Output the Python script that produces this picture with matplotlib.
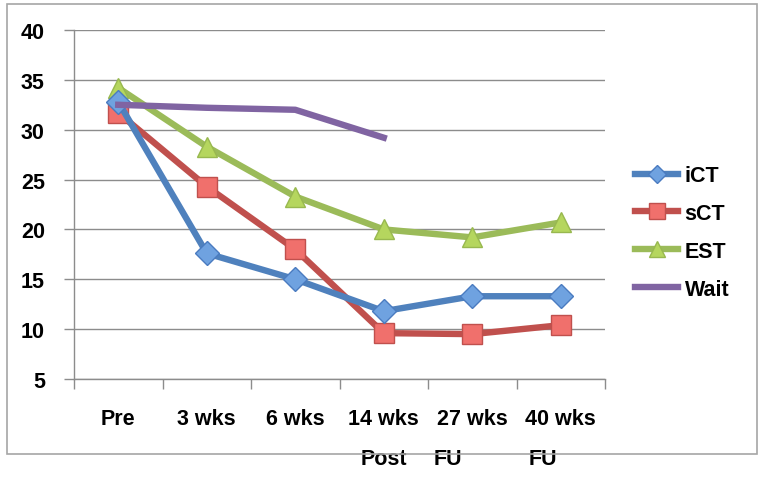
import matplotlib
matplotlib.use("Agg")
import matplotlib.pyplot as plt
from matplotlib.patches import Rectangle
import matplotlib.transforms as mtrans

plt.rcParams['font.family'] = ['Liberation Sans', 'DejaVu Sans']

categories = ['Pre', '3 wks', '6 wks', '14 wks', '27 wks', '40 wks']
second_line = ['', '', '', 'Post', 'FU', 'FU']

ict = [32.8, 17.6, 15.0, 11.8, 13.3, 13.3]
sct = [31.7, 24.3, 18.0, 9.6, 9.5, 10.4]
est = [34.2, 28.3, 23.3, 20.0, 19.2, 20.7]
wait = [32.5, 32.2, 32.0, 29.2]

fs = 15.5

fig = plt.figure(figsize=(7.61, 4.89), dpi=100)

# outer frame of the chart area
fig.patches.append(Rectangle((7 / 761, 1 - 455 / 489), 750 / 761, 450 / 489,
                             transform=fig.transFigure, fill=False,
                             edgecolor='#a6a6a6', linewidth=1.2, zorder=0))

ax = fig.add_axes([74 / 761, 1 - 380 / 489, 531 / 761, 349 / 489])

x = list(range(len(categories)))
lw = 4.6
ax.plot(x, ict, color='#4f81bd', lw=lw, marker='D', ms=12,
        mfc='#6fa2e0', mec='#4a7bc0', mew=1, label='iCT', zorder=4)
ax.plot(x, sct, color='#c0504d', lw=lw, marker='s', ms=14,
        mfc='#f0706c', mec='#c0504d', mew=1, label='sCT', zorder=3)
ax.plot(x, est, color='#9bbb59', lw=lw, marker='^', ms=14,
        mfc='#b5d65e', mec='#98b84f', mew=1, label='EST', zorder=2)
ax.plot(x[:len(wait)], wait, color='#8064a2', lw=lw, label='Wait', zorder=5)

ax.set_xlim(-0.5, len(categories) - 0.5)
ax.set_ylim(5, 40)
ax.set_yticks(range(5, 41, 5))
ax.yaxis.grid(True, color='#8c8c8c', lw=1)
ax.set_axisbelow(True)

ax.set_xticks([i - 0.5 for i in range(len(categories) + 1)])
ax.set_xticklabels([])
ax.set_xticks(x, minor=True)
ax.set_xticklabels(categories, minor=True, fontsize=fs, fontweight='bold')
ax.tick_params(axis='x', which='minor', length=0, pad=21)
ax.tick_params(axis='x', which='major', length=7, color='#8c8c8c', width=1)
ax.tick_params(axis='y', length=7, color='#8c8c8c', width=1, pad=14,
               labelsize=fs)
for lab in ax.get_yticklabels():
    lab.set_fontweight('bold')

for s in ['top', 'right']:
    ax.spines[s].set_visible(False)
for s in ['left', 'bottom']:
    ax.spines[s].set_color('#8c8c8c')
    ax.spines[s].set_linewidth(1)

trans = mtrans.blended_transform_factory(ax.transData, fig.transFigure)
offsets = [0, 0, 0, 0, -0.27, -0.2]
for i, t in enumerate(second_line):
    if t:
        ax.text(i + offsets[i], 1 - 460 / 489, t, transform=trans,
                ha='center', va='center', fontsize=fs, fontweight='bold')

leg = ax.legend(loc='center left', bbox_to_anchor=(1.02, 0.42), frameon=False,
                fontsize=fs, handlelength=2.0, labelspacing=0.78,
                handletextpad=0.3, markerscale=0.8)
for t in leg.get_texts():
    t.set_fontweight('bold')

fig.savefig('out.png', dpi=100)
